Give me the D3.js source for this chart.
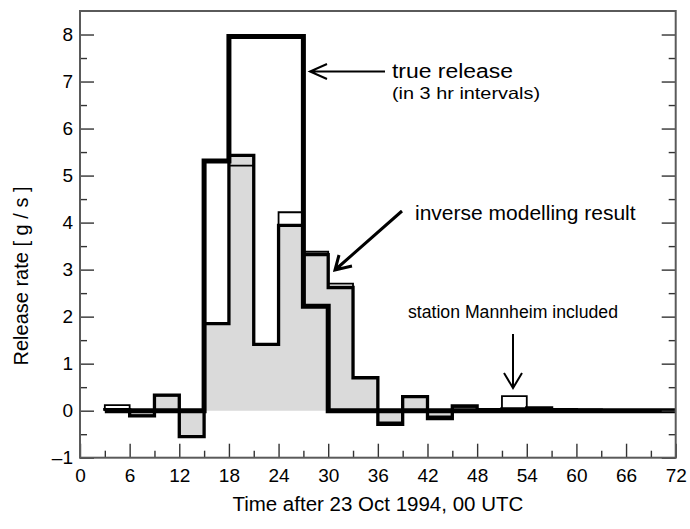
<!DOCTYPE html>
<html><head><meta charset="utf-8">
<script src="https://cdn.jsdelivr.net/npm/d3@7"></script>
<style>
html,body{margin:0;padding:0;background:#fff;}
text{font-family:"Liberation Sans",Arial,Helvetica,sans-serif;fill:#000;}
</style></head>
<body><svg id="c" width="690" height="529"></svg>
<script>
// ---- data ----
const trueStart = [3,6,9,12,15,18,21,24,27,30,33,36,39,42,45,48,51,54,57,60,63,66,69];
const trueRelease = [0,0,0,0,5.31,7.96,7.96,7.96,2.22,0,0,0,0,0,0,0,0,0,0,0,0,0,0];
const invStart = [3,6,9,12,15,18,21,24,27,30,33,36,39,42,45,48,51,54,57,60];
const inverseResult = [0.02,-0.11,0.33,-0.55,1.85,5.43,1.41,3.94,3.32,2.62,0.70,-0.29,0.30,-0.17,0.10,0.02,0.04,0.06,0.02,0.01];
const withMannheim  = [0.12,-0.10,0.32,-0.55,1.85,5.21,1.41,4.22,3.38,2.70,0.70,-0.25,0.30,-0.12,0.08,0.02,0.31,0.06,0.02,0.01];
const intervalHours = 3;
const xTickLabels = [0,6,12,18,24,30,36,42,48,54,60,66,72];
const xMinorTicks = [3,9,15,21,27,33,39,45,51,57,63,69];
const yTickLabels = [-1,0,1,2,3,4,5,6,7,8];
const yMinorTicks = [-0.5,0.5,1.5,2.5,3.5,4.5,5.5,6.5,7.5];

// ---- layout ----
const svg = d3.select("#c");
const L = 80, R = 675.7, T = 11, B = 457.7;
const x = d3.scaleLinear().domain([0,72]).range([L,R]);
const y = d3.scaleLinear().domain([-1,8.5]).range([B,T]);

function steps(starts, vals){
  const pts = [[starts[0],0]];
  starts.forEach((s,i)=>{ pts.push([s,vals[i]]); pts.push([s+intervalHours,vals[i]]); });
  pts.push([starts[starts.length-1]+intervalHours,0]);
  return pts;
}
const line = d3.line().x(d=>x(d[0])).y(d=>y(d[1]));
const area = d3.area().x(d=>x(d[0])).y0(y(0)).y1(d=>y(d[1]));

const invPts = steps(invStart, inverseResult);
const manPts = steps(invStart, withMannheim);
const truePts = steps(trueStart, trueRelease);

svg.append("path").attr("d", area(invPts)).attr("fill","#dadada").attr("stroke","none");
svg.append("path").attr("d", line(manPts)).attr("fill","none").attr("stroke","#000").attr("stroke-width",1.8).attr("stroke-linejoin","miter");
svg.append("path").attr("d", line(invPts)).attr("fill","none").attr("stroke","#000").attr("stroke-width",3.3).attr("stroke-linejoin","miter");
svg.append("path").attr("d", line(truePts)).attr("fill","none").attr("stroke","#000").attr("stroke-width",5).attr("stroke-linejoin","miter");

// ---- axes ----
const fmt = d => d < 0 ? "\u2013" + Math.abs(d) : String(d);
function styleAxis(g){
  g.select(".domain").remove();
  g.selectAll(".tick line").attr("stroke","#333").attr("stroke-width",1.4);
  g.selectAll("text").attr("font-size",19).attr("font-family","Liberation Sans, Arial, sans-serif").attr("fill","#000");
}
svg.append("g").attr("transform",`translate(0,${B})`)
  .call(d3.axisBottom(x).tickValues(xTickLabels).tickSize(-14).tickPadding(10.5).tickFormat(fmt)).call(styleAxis);
svg.append("g").attr("transform",`translate(0,${B})`)
  .call(d3.axisBottom(x).tickValues(xMinorTicks).tickSize(-7).tickFormat("")).call(styleAxis);
svg.append("g").attr("transform",`translate(${L},0)`)
  .call(d3.axisLeft(y).tickValues(yTickLabels).tickSize(-14).tickPadding(7).tickFormat(fmt)).call(styleAxis);
svg.append("g").attr("transform",`translate(${L},0)`)
  .call(d3.axisLeft(y).tickValues(yMinorTicks).tickSize(-7).tickFormat("")).call(styleAxis);
svg.append("g").attr("transform",`translate(${R},0)`)
  .call(d3.axisRight(y).tickValues(yTickLabels).tickSize(-14).tickFormat("")).call(styleAxis);
svg.append("g").attr("transform",`translate(${R},0)`)
  .call(d3.axisRight(y).tickValues(yMinorTicks).tickSize(-7).tickFormat("")).call(styleAxis);

svg.append("rect").attr("x",L).attr("y",T).attr("width",R-L).attr("height",B-T)
  .attr("fill","none").attr("stroke","#5a5a5a").attr("stroke-width",2);

svg.append("text").attr("x",(L+R)/2).attr("y",511).attr("text-anchor","middle")
  .attr("font-size",20.5).text("Time after 23 Oct 1994, 00 UTC");
svg.append("text").attr("transform","translate(28,276) rotate(-90)").attr("text-anchor","middle")
  .attr("font-size",20).text("Release rate [ g / s ]");

// ---- annotations ----
svg.append("text").attr("x",392).attr("y",78).attr("font-size",20).attr("textLength",121).attr("lengthAdjust","spacingAndGlyphs").text("true release");
svg.append("text").attr("x",392).attr("y",99).attr("font-size",16.5).attr("textLength",148).attr("lengthAdjust","spacingAndGlyphs").text("(in 3 hr intervals)");
svg.append("text").attr("x",415).attr("y",220).attr("font-size",21).text("inverse modelling result");
svg.append("text").attr("x",408).attr("y",318).attr("font-size",17.5).attr("textLength",210).attr("lengthAdjust","spacingAndGlyphs").text("station Mannheim included");

const arr = svg.append("g").attr("fill","none").attr("stroke","#000");
arr.append("path").attr("d","M385,71.5 L310,71.5 M327,64 L310,71.5 L327,79").attr("stroke-width",2);
arr.append("path").attr("d","M402,211 L335,270 M339,255 L335,270 L352,266").attr("stroke-width",3);
arr.append("path").attr("d","M513,334 L513,388 M504,373 L513,388 L522,373").attr("stroke-width",2);
</script></body></html>
